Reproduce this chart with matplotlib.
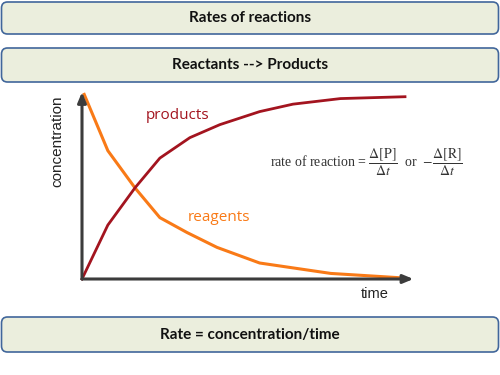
import matplotlib
matplotlib.use("Agg")
import matplotlib.pyplot as plt
from matplotlib.patches import FancyBboxPatch

# ---- data ----
products_t = [0, 0.8, 1.64, 2.41, 3.34, 4.27, 5.5, 6.53, 8.0, 10.0]
products_c = [0, 0.29, 0.49, 0.65, 0.76, 0.83, 0.90, 0.94, 0.97, 0.98]
reagents_t = [0.05, 0.8, 1.64, 2.41, 3.25, 4.18, 5.5, 7.7, 10.0]
reagents_c = [1.0, 0.69, 0.49, 0.33, 0.25, 0.17, 0.086, 0.03, 0.005]

box_titles = ["Rates of reactions", "Reactants --> Products", "Rate = concentration/time"]
box_tops = [2, 48, 317]
box_bottoms = [34, 82, 352]

W, H = 500, 375
plt.rcParams["mathtext.fontset"] = "stix"
fig = plt.figure(figsize=(5, 3.75), dpi=100)
fig.patch.set_facecolor("white")

# background overlay in pixel coordinates
bg = fig.add_axes([0, 0, 1, 1])
bg.set_xlim(0, W)
bg.set_ylim(H, 0)
bg.axis("off")

for title, top, bot in zip(box_titles, box_tops, box_bottoms):
    p = FancyBboxPatch((1.5, top), W - 3, bot - top,
                       boxstyle="round,pad=0,rounding_size=6",
                       facecolor="#ebeedd", edgecolor="#41669b", linewidth=1.2)
    bg.add_patch(p)
    bg.text(W / 2, (top + bot) / 2, title, ha="center", va="center",
            fontsize=11, fontweight="bold", family="Lato", color="#111111")

# chart axes
L, R, T, B = 82, 405, 93, 279
ax = fig.add_axes([L / W, (H - B) / H, (R - L) / W, (B - T) / H])
ax.patch.set_alpha(0)
ax.set_xlim(0, 10)
ax.set_ylim(0, 1)
for s in ax.spines.values():
    s.set_visible(False)
ax.set_xticks([])
ax.set_yticks([])

ax.plot(reagents_t, reagents_c, color="#f97a17", lw=2.2, solid_capstyle="butt", clip_on=False)
ax.plot(products_t, products_c, color="#a3141f", lw=2.0, clip_on=False)

axis_col = "#3c3c3c"
ax.annotate("", xy=(1.026, 0), xytext=(0, 0), xycoords="axes fraction",
            arrowprops=dict(arrowstyle="-|>,head_length=0.6,head_width=0.25",
                            color=axis_col, lw=2.2, shrinkA=0, shrinkB=0))
ax.annotate("", xy=(0, 1.005), xytext=(0, 0), xycoords="axes fraction",
            arrowprops=dict(arrowstyle="-|>,head_length=0.6,head_width=0.25",
                            color=axis_col, lw=2.2, shrinkA=0, shrinkB=0))

ax.set_ylabel("concentration", fontsize=11, family="Liberation Sans",
              color="#222222", labelpad=4)
ax.yaxis.set_label_coords(-0.055, 0.74)
ax.text(0.905, -0.045, "time", transform=ax.transAxes, ha="center", va="top",
        fontsize=10.5, family="Liberation Sans", color="#222222")

ax.text(0.297, 0.88, "products", transform=ax.transAxes, ha="center", va="center",
        fontsize=11, family="Open Sans", color="#a3141f")
ax.text(0.424, 0.333, "reagents", transform=ax.transAxes, ha="center", va="center",
        fontsize=11, family="Open Sans", color="#f97a17")

bg.text(366, 162,
        r"rate of reaction = $\dfrac{\Delta[\mathrm{P}]}{\Delta t}$  or  $-\dfrac{\Delta[\mathrm{R}]}{\Delta t}$",
        ha="center", va="center", fontsize=10, family="Liberation Serif", color="#333333")

fig.savefig("out.png", dpi=100)
